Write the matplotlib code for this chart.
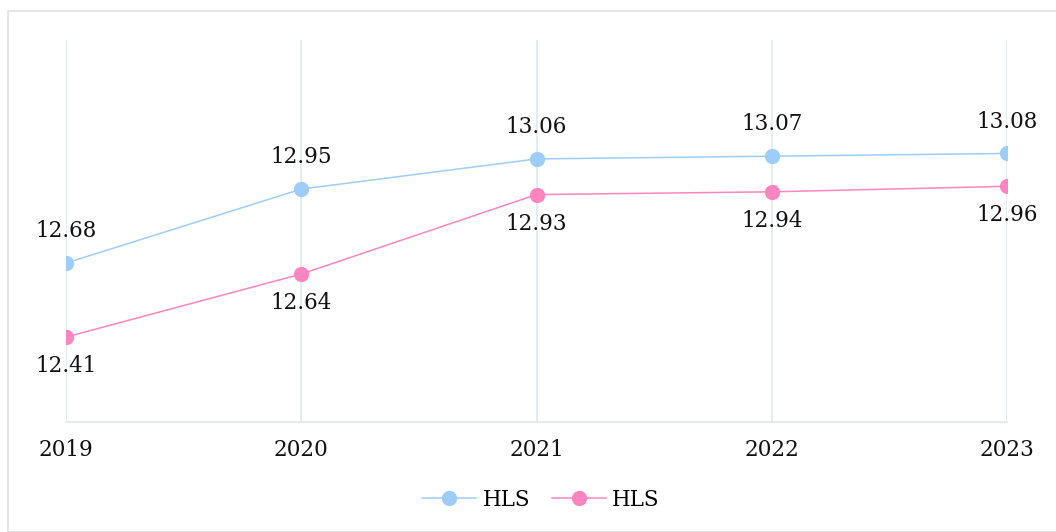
import matplotlib
matplotlib.use('Agg')
import matplotlib.pyplot as plt
from matplotlib.patches import Rectangle

years = ['2019', '2020', '2021', '2022', '2023']
hls_blue = [12.68, 12.95, 13.06, 13.07, 13.08]
hls_pink = [12.41, 12.64, 12.93, 12.94, 12.96]
series_names = ['HLS', 'HLS']

BLUE = '#9fcdfb'
PINK = '#ff85c1'
GRID = '#e1e7ee'

plt.rcParams['font.family'] = ['DejaVu Serif']
FS = 15.5

W, H = 1056, 532
fig = plt.figure(figsize=(W / 100, H / 100), dpi=100)
fig.patches.append(Rectangle((8 / W, 0), 1.2, (H - 11) / H, transform=fig.transFigure,
                             fill=False, edgecolor='#e2e2e2', linewidth=1.2))

ax = fig.add_axes([66 / W, (H - 422) / H, (1007 - 66) / W, (422 - 40) / H])
x = list(range(len(years)))

ax.plot(x, hls_blue, color=BLUE, linewidth=1.1, marker='o', markersize=10,
        label=series_names[0], zorder=3)
ax.plot(x, hls_pink, color=PINK, linewidth=1.1, marker='o', markersize=10,
        label=series_names[1], zorder=3)

for xi, v in zip(x, hls_blue):
    ax.annotate(f'{v:.2f}', (xi, v), xytext=(0, 23), textcoords='offset points',
                ha='center', va='center', fontsize=FS, color='#111111')
for xi, v in zip(x, hls_pink):
    ax.annotate(f'{v:.2f}', (xi, v), xytext=(0, -21), textcoords='offset points',
                ha='center', va='center', fontsize=FS, color='#111111')

ax.set_xlim(0, 4)
ax.set_ylim(12.10, 13.494)
ax.set_xticks(x)
ax.set_xticklabels(years, fontsize=FS, color='#111111')
ax.set_yticks([])
ax.tick_params(axis='x', length=0, pad=12)
ax.grid(axis='x', color=GRID, linewidth=1.2)
ax.set_axisbelow(True)
for s in ['top', 'right', 'left']:
    ax.spines[s].set_visible(False)
ax.spines['bottom'].set_color(GRID)
ax.spines['bottom'].set_linewidth(1.2)

ax.legend(loc='center', bbox_to_anchor=(541 / W, (H - 500) / H),
          bbox_transform=fig.transFigure, ncol=2, frameon=False,
          fontsize=FS, handlelength=2.5, handletextpad=0.3, columnspacing=1.0)

fig.savefig('out.png', dpi=100)
